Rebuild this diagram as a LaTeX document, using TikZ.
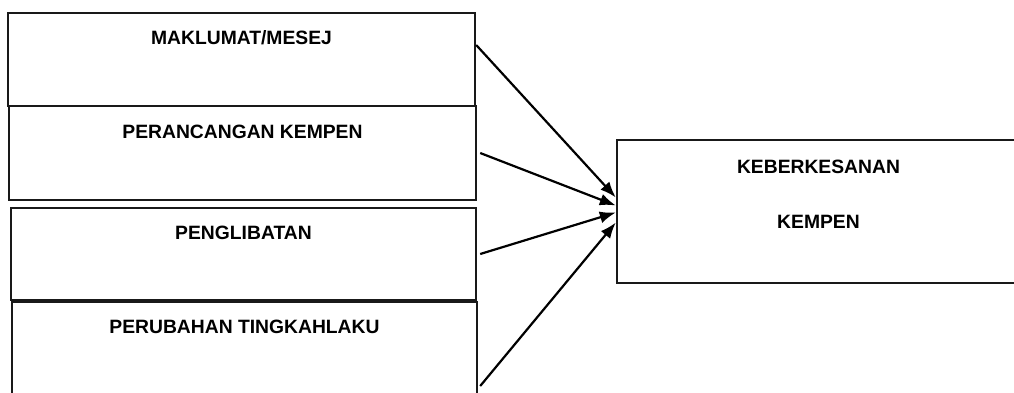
\documentclass[tikz,border=0pt]{standalone}
\usepackage{fontspec}
\setmainfont{Liberation Sans}
\usetikzlibrary{arrows.meta}
\tikzset{
  box/.style={draw=black!90, line width=2.4pt, fill=white, inner sep=0pt},
  lbl/.style={font=\bfseries\fontsize{19.3}{22}\selectfont, text height=14pt, text depth=0pt, inner sep=0pt},
  conn/.style={line width=2.2pt, -{Latex[length=16pt,width=12pt]}}
}
\begin{document}
\begin{tikzpicture}[x=1pt,y=-1pt]
\useasboundingbox (0,0) rectangle (1014,392);
\clip (0,0) rectangle (1014,392);
\node[box, minimum width=467pt, minimum height=93pt] (m1) at (241.5,59.5) {};
\node[lbl, anchor=north] (t1) at ([yshift=-18pt]m1.north) {MAKLUMAT/MESEJ};
\node[box, minimum width=467pt, minimum height=94pt] (m2) at (242.5,153) {};
\node[lbl, anchor=north] (t2) at ([yshift=-19pt]m2.north) {PERANCANGAN KEMPEN};
\node[box, minimum width=465pt, minimum height=92pt] (m3) at (243.5,254) {};
\node[lbl, anchor=north] (t3) at ([yshift=-18pt]m3.north) {PENGLIBATAN};
\node[box, minimum width=465pt, minimum height=166pt] (m4) at (244.5,385) {};
\node[lbl, anchor=north] (t4) at ([yshift=-18pt]m4.north) {PERUBAHAN TINGKAHLAKU};
\node[box, minimum width=403pt, minimum height=143pt] (k) at (818.5,211.5) {};
\node[lbl, anchor=north] (k1) at ([yshift=-20pt]k.north) {KEBERKESANAN};
\node[lbl, anchor=north] (k2) at ([yshift=-75pt]k.north) {KEMPEN};
\draw[conn] ([yshift=14.5pt]m1.east) -- ([yshift=14pt]k.west);
\draw[conn] ([xshift=3pt]m2.east) -- ([yshift=6pt]k.west);
\draw[conn] ([xshift=3pt]m3.east) -- ([yshift=-1pt]k.west);
\draw[conn] ([xshift=2pt,yshift=-1pt]m4.east) -- ([yshift=-11pt]k.west);
\end{tikzpicture}
\end{document}
